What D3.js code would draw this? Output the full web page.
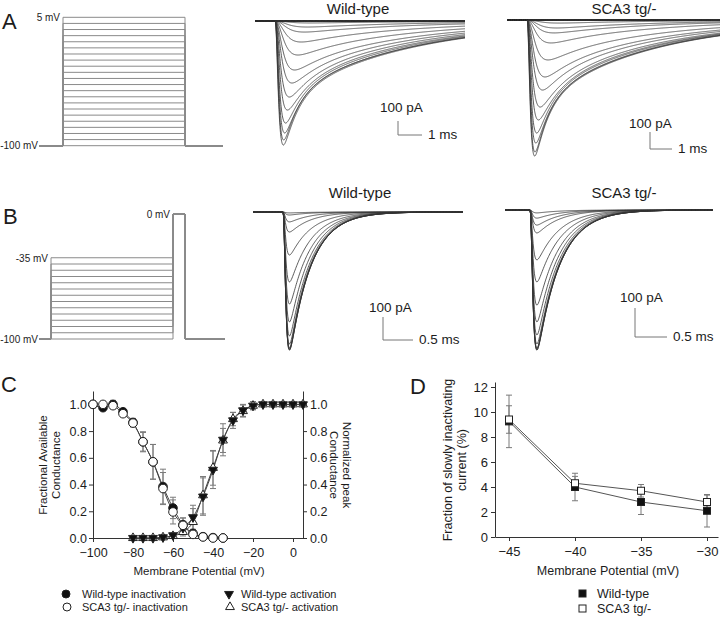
<!DOCTYPE html>
<html><head><meta charset="utf-8">
<script src="https://cdn.jsdelivr.net/npm/d3@7"></script>
<style>
body{margin:0;background:#fff}
svg{display:block}
text{font-family:"Liberation Sans",Arial,Helvetica,sans-serif;fill:#1c1c1c}
</style>
</head><body>
<svg id="fig" width="720" height="618"></svg>
<script>
// ================= DATA =================
const stepVoltsA = [-100,-95,-90,-85,-80,-75,-70,-65,-60,-55,-50,-45,-40,-35,-30,-25,-20,-15,-10,-5,0,5];
const wtA_peak  = [0,0,0,0,0,0,0,0,0,14,43,79,150,243,350,443,543,636,729,800,850,886];
const wtA_tauM  = [.4,.4,.4,.4,.4,.4,.4,.4,.4,.42,.38,.34,.3,.26,.22,.19,.16,.14,.12,.11,.1,.095];
const wtA_tauF  = [1,1,1,1,1,1,1,1,1,1.6,1.5,1.4,1.3,1.2,1.1,1,.9,.8,.7,.65,.6,.6];
const wtA_fFast = [0,0,0,0,0,0,0,0,0,.1,.12,.15,.2,.25,.3,.35,.4,.45,.5,.52,.55,.55];
const wtA_tauS  = [5,5,5,5,5,5,5,5,5,5,5,5,5,5,5,5,5,5,5,5,5,5];
const scaA_peak  = [0,0,0,0,0,0,0,0,0,18,47,76,135,235,335,412,512,588,665,724,776,800];
const scaA_tauM  = [.4,.4,.4,.4,.4,.4,.4,.4,.4,.42,.38,.34,.3,.26,.22,.19,.16,.14,.12,.11,.1,.095];
const scaA_tauF  = [1,1,1,1,1,1,1,1,1,1.6,1.5,1.4,1.3,1.2,1.1,1,.9,.8,.7,.65,.6,.6];
const scaA_fFast = [0,0,0,0,0,0,0,0,0,.1,.12,.15,.2,.25,.3,.35,.4,.45,.5,.52,.55,.55];
const scaA_tauS  = [5,5,5,5,5,5,5,5,5,5,5,5,5,5,5,5,5,5,5,5,5,5];

const stepVoltsB = [-100,-95,-90,-85,-80,-75,-70,-65,-60,-55,-50,-45,-40,-35];
const testVoltB = 0;
const wtB_peak  = [600,596,600,591,574,539,478,400,304,187,87,43,13,4];
const scaB_peak = [483,479,483,476,462,431,386,328,248,172,79,52,28,10];
const B_tauM = 0.03, B_tauH = 0.35;

const cInactV = [-100,-95,-90,-85,-80,-75,-70,-65,-60,-55,-50,-45,-40,-35];
const wtInact  = [1.0,0.975,1.0,0.945,0.865,0.72,0.57,0.385,0.225,0.10,0.035,0.01,0.003,0.0];
const wtInactE = [0,0.01,0.03,0.02,0.03,0.07,0.13,0.13,0.08,0.05,0.02,0.01,0.005,0];
const scaInact  = [1.0,1.0,0.99,0.93,0.86,0.72,0.57,0.37,0.195,0.095,0.027,0.008,0.0,0.0];
const scaInactE = [0,0.01,0.02,0.02,0.03,0.075,0.13,0.12,0.09,0.055,0.02,0.01,0,0];
const cActV = [-80,-75,-70,-65,-60,-55,-50,-45,-40,-35,-30,-25,-20,-15,-10,-5,0,5];
const wtAct  = [0,0,0,0.005,0.02,0.075,0.155,0.31,0.51,0.735,0.88,0.955,0.99,1.0,1.0,1.0,1.0,1.0];
const wtActE = [0,0,0,0.005,0.01,0.04,0.09,0.14,0.14,0.12,0.06,0.045,0.03,0.01,0,0,0,0];
const scaAct  = [0,0,0,0.005,0.015,0.045,0.12,0.32,0.525,0.73,0.89,0.95,0.99,1.0,1.0,1.0,1.0,1.0];
const scaActE = [0,0,0,0.005,0.01,0.03,0.1,0.14,0.13,0.09,0.05,0.045,0.03,0.01,0,0,0,0];
const cXTicks = [-100,-80,-60,-40,-20,0];
const cYTicks = [0,0.2,0.4,0.6,0.8,1.0];

const dV = [-45,-40,-35,-30];
const dWT  = [9.25,4.0,2.8,2.1];
const dWTE = [2.1,1.1,1.0,1.3];
const dSCA  = [9.4,4.3,3.7,2.8];
const dSCAE = [1.1,0.55,0.5,0.55];
const dXTicks = [-45,-40,-35,-30];
const dYTicks = [0,2,4,6,8,10,12];

// ================= DRAWING =================
const svg = d3.select("#fig");
const TXT = "#1c1c1c", GRID = "#8a8a8a", TRACE = "#333";

function label(x,y,t,size,anchor){
  return svg.append("text").attr("x",x).attr("y",y).attr("font-size",size)
    .attr("text-anchor",anchor||"start").text(t);
}
label(2,29,"A",22); label(3,224,"B",22); label(1,392,"C",22); label(410,394,"D",22);

function protocolA(){
  const y = d3.scaleLinear([-100,5],[145.7,17.3]);
  const g = svg.append("g").attr("fill","none").attr("stroke",GRID).attr("stroke-width",1);
  stepVoltsA.forEach(v=>{
    g.append("path").attr("d",`M39,${y(-100)}H63V${y(v)}H185V${y(-100)}H223`);
  });
  label(60,20.5,"5 mV",10,"end");
  label(38,149,"-100 mV",10,"end");
}
function protocolB(){
  const y = d3.scaleLinear([-100,0],[339,214]);
  const g = svg.append("g").attr("fill","none").attr("stroke",GRID).attr("stroke-width",1);
  stepVoltsB.forEach(v=>{
    g.append("path").attr("d",`M39,${y(-100)}H51V${y(v)}H173V${y(testVoltB)}H185V${y(-100)}H225`);
  });
  label(170,217.5,"0 mV",10,"end");
  label(48,261.5,"-35 mV",10,"end");
  label(38,342.5,"-100 mV",10,"end");
}
protocolA(); protocolB();

function kinetics(t,tm,tf,ff,ts){
  if(t<=0) return 0;
  const m = 1-Math.exp(-t/tm);
  return m*m*m*(ff*Math.exp(-t/tf)+(1-ff)*Math.exp(-t/ts));
}
function traceFamily(opts){
  const x = d3.scaleLinear([0,1],[opts.onset,opts.onset+opts.pxPerMs]);
  const y = d3.scaleLinear([0,-100],[opts.base,opts.base+opts.pxPer100]);
  const t0 = x.invert(opts.x0), t1 = x.invert(opts.x1);
  const ts = d3.range(t0,t1,0.01).concat([t1]);
  const line = d3.line().x(d=>x(d[0])).y(d=>y(d[1]));
  const g = svg.append("g").attr("fill","none").attr("stroke",TRACE).attr("stroke-width",0.8);
  opts.peak.forEach((p,i)=>{
    const f = t=>kinetics(t,opts.tauM[i],opts.tauF[i],opts.fFast[i],opts.tauS[i]);
    let mx = 0; ts.forEach(t=>{mx=Math.max(mx,f(t));});
    const pts = ts.map(t=>[t, p===0||mx===0 ? 0 : -p*f(t)/mx]);
    g.append("path").attr("d",line(pts));
  });
  const sb = svg.append("g").attr("fill","none").attr("stroke","#777").attr("stroke-width",1);
  const bx = opts.barX, by = opts.barY;
  const h = y(-100)-y(0), w = x(opts.barMs)-x(0);
  sb.append("path").attr("d",`M${bx},${by-h}V${by}H${bx+w}`);
  label(opts.pAx, by-h-opts.pAgap, "100 pA", 13.5);
  label(bx+w+6, by+4, opts.barMs+" ms", 13.5);
  label(opts.titleX, opts.titleY, opts.title, 15, "middle");
}
const ones = n=>Array(n).fill(1);
traceFamily({title:"Wild-type",titleX:358,titleY:14,onset:275,pxPerMs:24,base:21,pxPer100:14,x0:255,x1:465,
  peak:wtA_peak,tauM:wtA_tauM,tauF:wtA_tauF,fFast:wtA_fFast,tauS:wtA_tauS,
  barX:398,barY:135,barMs:1,pAx:380,pAgap:9});
traceFamily({title:"SCA3 tg/-",titleX:624,titleY:14,onset:527,pxPerMs:22,base:20,pxPer100:17,x0:507,x1:720,
  peak:scaA_peak,tauM:scaA_tauM,tauF:scaA_tauF,fFast:scaA_fFast,tauS:scaA_tauS,
  barX:650,barY:149,barMs:1,pAx:629,pAgap:4});
const nB = stepVoltsB.length;
traceFamily({title:"Wild-type",titleX:360,titleY:198,onset:283,pxPerMs:60,base:212,pxPer100:23,x0:253,x1:463,
  peak:wtB_peak,tauM:Array(nB).fill(B_tauM),tauF:Array(nB).fill(B_tauH),fFast:ones(nB),tauS:ones(nB),
  barX:383,barY:340,barMs:0.5,pAx:369,pAgap:5});
traceFamily({title:"SCA3 tg/-",titleX:624,titleY:198,onset:530,pxPerMs:64,base:210,pxPer100:29,x0:505,x1:713,
  peak:scaB_peak,tauM:Array(nB).fill(B_tauM),tauF:Array(nB).fill(B_tauH),fFast:ones(nB),tauS:ones(nB),
  barX:635,barY:337,barMs:0.5,pAx:620,pAgap:6});

(function(){
  const x = d3.scaleLinear([-100,5],[93,303]);
  const y = d3.scaleLinear([0,1.1],[538,391]);
  const ax = g=>g.attr("font-size",12.5).attr("font-family",'"Liberation Sans",Arial,sans-serif')
    .call(s=>s.selectAll("path,line").attr("stroke","#333")).call(s=>s.selectAll("text").attr("fill",TXT));
  svg.append("g").attr("transform","translate(93,0)")
    .call(d3.axisLeft(y).tickValues(cYTicks).tickFormat(d3.format(".1f")).tickSize(4).tickSizeOuter(0).tickPadding(2)).call(ax);
  svg.append("g").attr("transform","translate(303,0)")
    .call(d3.axisRight(y).tickValues(cYTicks).tickFormat(d3.format(".1f")).tickSize(4).tickSizeOuter(0).tickPadding(3)).call(ax);
  svg.append("g").attr("transform","translate(0,538)")
    .call(d3.axisBottom(x).tickValues(cXTicks).tickSize(4).tickSizeOuter(0).tickPadding(6)).call(ax);

  const t1 = svg.append("text").attr("transform","translate(43,465) rotate(-90)").attr("text-anchor","middle").attr("font-size",11.5);
  t1.append("tspan").attr("x",0).attr("y",4).text("Fractional Available");
  t1.append("tspan").attr("x",0).attr("y",17).text("Conductance");
  const t2 = svg.append("text").attr("transform","translate(347,465) rotate(90)").attr("text-anchor","middle").attr("font-size",11.5);
  t2.append("tspan").attr("x",0).attr("y",4).text("Normalized peak");
  t2.append("tspan").attr("x",0).attr("y",17).text("Conductance");
  label(199,575,"Membrane Potential (mV)",11.5,"middle");

  const line = d3.line().x(d=>x(d[0])).y(d=>y(d[1])).curve(d3.curveMonotoneX);
  const lg = svg.append("g").attr("fill","none").attr("stroke","#444").attr("stroke-width",1);
  [[cInactV,wtInact],[cInactV,scaInact],[cActV,wtAct],[cActV,scaAct]].forEach(([vs,ys])=>{
    lg.append("path").attr("d",line(vs.map((v,i)=>[v,ys[i]])));
  });
  const eg = svg.append("g").attr("stroke","#7a7a7a").attr("stroke-width",1).attr("fill","none");
  function errs(vs,ys,es){
    vs.forEach((v,i)=>{ if(es[i]<=0.004) return;
      const cx=x(v), a=y(ys[i]+es[i]), b=y(ys[i]-es[i]);
      eg.append("path").attr("d",`M${cx},${a}V${b}M${cx-3},${a}H${cx+3}M${cx-3},${b}H${cx+3}`);
    });
  }
  errs(cInactV,wtInact,wtInactE); errs(cInactV,scaInact,scaInactE);
  errs(cActV,wtAct,wtActE); errs(cActV,scaAct,scaActE);

  const tri = d3.symbol(d3.symbolTriangle,34);
  const mg = svg.append("g").attr("stroke","#222").attr("stroke-width",1);
  cActV.forEach((v,i)=>mg.append("path").attr("d",tri()).attr("fill","#fff")
    .attr("transform",`translate(${x(v)},${y(scaAct[i])})`));
  cActV.forEach((v,i)=>mg.append("path").attr("d",tri()).attr("fill","#111")
    .attr("transform",`translate(${x(v)},${y(wtAct[i])}) rotate(180)`));
  cInactV.forEach((v,i)=>mg.append("circle").attr("cx",x(v)).attr("cy",y(wtInact[i])).attr("r",4.3).attr("fill","#111"));
  cInactV.forEach((v,i)=>mg.append("circle").attr("cx",x(v)).attr("cy",y(scaInact[i])).attr("r",4.3).attr("fill","#fff"));

  const L = svg.append("g").attr("stroke","#222").attr("stroke-width",1);
  L.append("circle").attr("cx",66).attr("cy",594).attr("r",4).attr("fill","#111");
  L.append("circle").attr("cx",67).attr("cy",607).attr("r",4).attr("fill","#fff");
  L.append("path").attr("d",tri()).attr("fill","#111").attr("transform","translate(229,594) rotate(180)");
  L.append("path").attr("d",tri()).attr("fill","#fff").attr("transform","translate(230,607)");
  label(82,598,"Wild-type inactivation",11);
  label(82,611,"SCA3 tg/- inactivation",11);
  label(241,598,"Wild-type activation",11);
  label(241,611,"SCA3 tg/- activation",11);
})();

(function(){
  const x = d3.scaleLinear([-45,-30],[509,707]);
  const y = d3.scaleLinear([0,12],[537,387]);
  const xa = x.copy().domain([x.invert(495),x.invert(718)]).range([495,718]);
  const ya = y.copy().domain([0,y.invert(382)]).range([537,382]);
  const ax = g=>g.attr("font-size",13).attr("font-family",'"Liberation Sans",Arial,sans-serif')
    .call(s=>s.selectAll("path,line").attr("stroke","#333")).call(s=>s.selectAll("text").attr("fill",TXT));
  svg.append("g").attr("transform","translate(495,0)")
    .call(d3.axisLeft(ya).tickValues(dYTicks).tickSize(4).tickSizeOuter(0).tickPadding(3)).call(ax);
  svg.append("g").attr("transform","translate(0,537)")
    .call(d3.axisBottom(xa).tickValues(dXTicks).tickSize(4).tickSizeOuter(0).tickPadding(6)).call(ax);

  const t1 = svg.append("text").attr("transform","translate(448,460) rotate(-90)").attr("text-anchor","middle").attr("font-size",12.5);
  t1.append("tspan").attr("x",0).attr("y",4).text("Fraction of slowly inactivating");
  t1.append("tspan").attr("x",0).attr("y",18).text("current (%)");
  label(608,575,"Membrane Potential (mV)",12.5,"middle");

  const line = d3.line().x(d=>x(d[0])).y(d=>y(d[1]));
  const lg = svg.append("g").attr("fill","none").attr("stroke","#555").attr("stroke-width",1);
  lg.append("path").attr("d",line(dV.map((v,i)=>[v,dWT[i]])));
  lg.append("path").attr("d",line(dV.map((v,i)=>[v,dSCA[i]])));
  const eg = svg.append("g").attr("stroke","#7a7a7a").attr("stroke-width",1).attr("fill","none");
  function errs(ys,es){
    dV.forEach((v,i)=>{ const cx=x(v), a=y(ys[i]+es[i]), b=y(ys[i]-es[i]);
      eg.append("path").attr("d",`M${cx},${a}V${b}M${cx-3},${a}H${cx+3}M${cx-3},${b}H${cx+3}`); });
  }
  errs(dWT,dWTE); errs(dSCA,dSCAE);
  const s = 7;
  const mg = svg.append("g").attr("stroke","#222").attr("stroke-width",1);
  dV.forEach((v,i)=>mg.append("rect").attr("x",x(v)-s/2).attr("y",y(dWT[i])-s/2).attr("width",s).attr("height",s).attr("fill","#111"));
  dV.forEach((v,i)=>mg.append("rect").attr("x",x(v)-s/2).attr("y",y(dSCA[i])-s/2).attr("width",s).attr("height",s).attr("fill","#fff"));

  const L = svg.append("g").attr("stroke","#222").attr("stroke-width",1);
  L.append("rect").attr("x",579).attr("y",590).attr("width",7).attr("height",7).attr("fill","#111");
  L.append("rect").attr("x",579).attr("y",605).attr("width",7).attr("height",7).attr("fill","#fff");
  label(597,598,"Wild-type",12.5);
  label(597,613,"SCA3 tg/-",12.5);
})();
</script>
</body></html>
